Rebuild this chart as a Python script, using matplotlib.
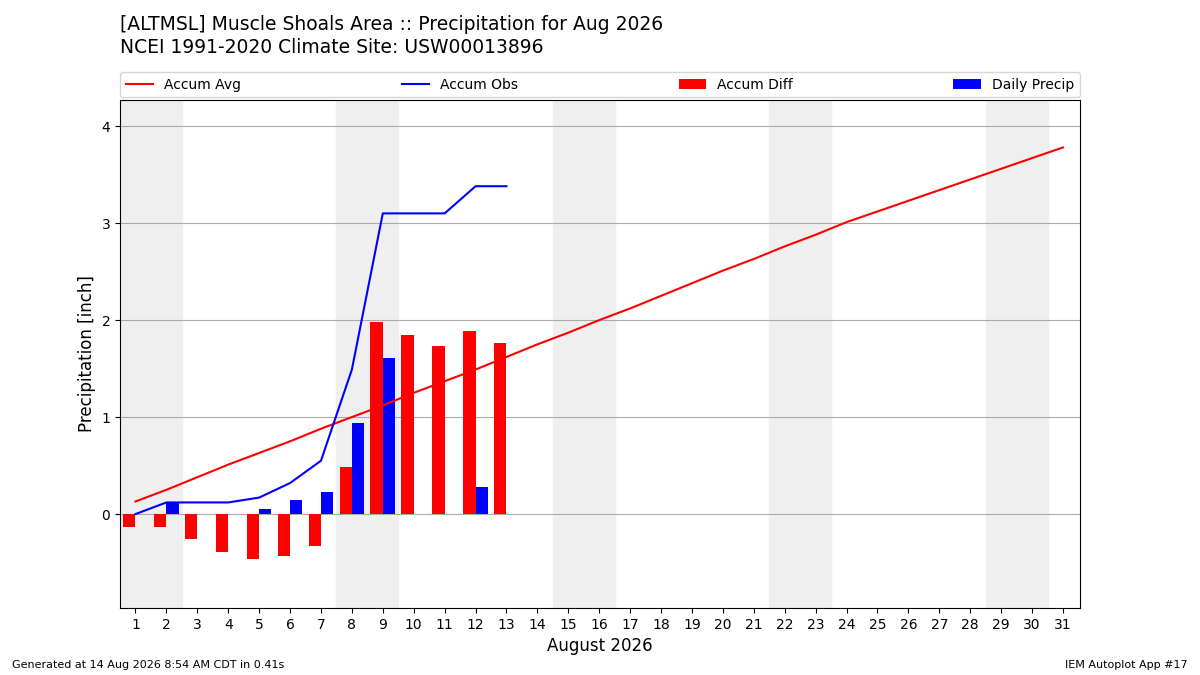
import numpy as np
import matplotlib
matplotlib.use("Agg")
import matplotlib.pyplot as plt

days = np.arange(1, 32)
accum_avg = [0.13, 0.25, 0.38, 0.51, 0.63, 0.75, 0.88, 1.00, 1.12, 1.25, 1.37, 1.49,
             1.62, 1.75, 1.87, 2.00, 2.12, 2.25, 2.38, 2.51, 2.63, 2.76, 2.88, 3.01,
             3.12, 3.23, 3.34, 3.45, 3.56, 3.67, 3.78]
daily = [0.0, 0.12, 0.0, 0.0, 0.05, 0.15, 0.23, 0.94, 1.61, 0.0, 0.0, 0.28, 0.0]
weekends = [1, 8, 15, 22, 29]

obs_days = days[:len(daily)]
accum_obs = np.cumsum(daily)
accum_diff = accum_obs - np.array(accum_avg[:len(daily)])

fig = plt.figure(figsize=(12, 6.75), dpi=100)
ax = fig.add_axes([0.1, 0.099, 0.8, 0.753])

for w in weekends:
    ax.axvspan(w - 0.5, w + 1.5, color="#efefef", zorder=0)

ax.plot(days, accum_avg, color="r", label="Accum Avg", zorder=3)
ax.plot(obs_days, accum_obs, color="b", label="Accum Obs", zorder=3)
ax.bar(obs_days - 0.2, accum_diff, width=0.4, color="r", label="Accum Diff", zorder=2)
ax.bar(obs_days + 0.2, daily, width=0.4, color="b", label="Daily Precip", zorder=2)

ax.set_xlim(0.5, 31.55)
ax.set_ylim(-0.97, 4.27)
ax.set_xticks(days)
ax.set_yticks([0, 1, 2, 3, 4])
ax.grid(axis="y", color="#aaaaaa", zorder=1)
ax.set_axisbelow(True)
ax.set_xlabel("August 2026", fontsize=12)
ax.set_ylabel("Precipitation [inch]", fontsize=12)

ax.legend(loc="lower left", bbox_to_anchor=(0, 1.005, 1, 0.05), ncol=4,
          mode="expand", borderaxespad=0, fontsize=10)

fig.text(0.1, 0.95, "[ALTMSL] Muscle Shoals Area :: Precipitation for Aug 2026", fontsize=13.5, va="bottom")
fig.text(0.1, 0.915, "NCEI 1991-2020 Climate Site: USW00013896", fontsize=13.5, va="bottom")
fig.text(0.01, 0.01, "Generated at 14 Aug 2026 8:54 AM CDT in 0.41s", fontsize=8)
fig.text(0.99, 0.01, "IEM Autoplot App #17", fontsize=8, ha="right")

fig.savefig("out.png")
